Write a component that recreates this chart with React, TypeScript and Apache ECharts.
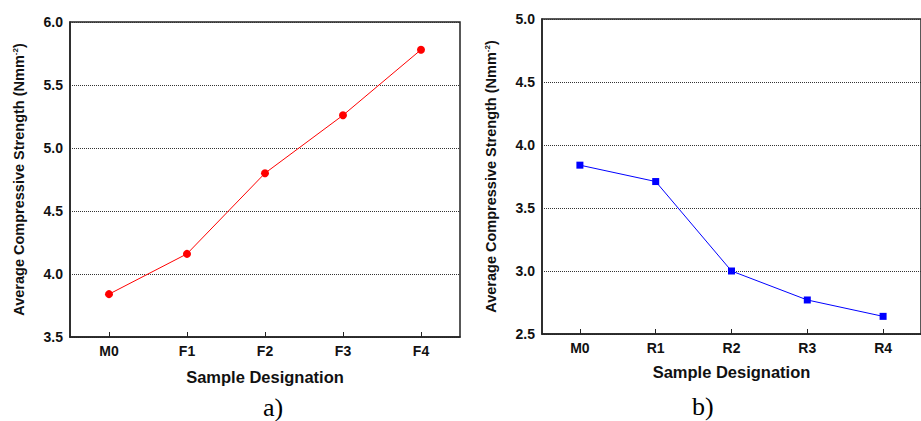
import React, { useEffect, useRef } from "react";
import * as echarts from "echarts";

const catsA = ["M0", "F1", "F2", "F3", "F4"];
const valsA = [3.84, 4.16, 4.8, 5.26, 5.78];
const catsB = ["M0", "R1", "R2", "R3", "R4"];
const valsB = [3.84, 3.71, 3.0, 2.77, 2.64];
const yNameText = "Average Compressive Strength (Nmm{sup|-2})";
const xNameText = "Sample Designation";
const panelLabels = ["a)", "b)"];

const FONT = "Liberation Sans, Arial, sans-serif";

export default function App() {
  const ref = useRef<HTMLDivElement>(null);
  useEffect(() => {
    if (!ref.current) return;
    const chart = echarts.init(ref.current, undefined, { renderer: "svg" });
    const axisLabelStyle = { fontFamily: FONT, fontWeight: "bold", fontSize: 14, color: "#111" };
    const mkX = (idx: number, cats: string[], gap: number) => ({
      type: "category",
      gridIndex: idx,
      data: cats,
      boundaryGap: true,
      name: xNameText,
      nameLocation: "middle",
      nameGap: gap,
      nameTextStyle: { fontFamily: FONT, fontWeight: "bold", fontSize: 16.5, color: "#111" },
      axisLine: { lineStyle: { color: "#222", width: 1.5 } },
      axisTick: { show: true, inside: true, length: 5, alignWithLabel: true, lineStyle: { color: "#222", width: 1 } },
      axisLabel: { ...axisLabelStyle, margin: 7 },
      splitLine: { show: false },
    });
    const mkY = (idx: number, min: number, max: number) => ({
      type: "value",
      gridIndex: idx,
      min,
      max,
      interval: 0.5,
      name: yNameText,
      nameLocation: "middle",
      nameRotate: 90,
      nameGap: 44,
      nameTextStyle: {
        fontFamily: FONT,
        fontWeight: "bold",
        fontSize: 14.5,
        color: "#111",
        rich: {
          sup: { fontFamily: FONT, fontWeight: "bold", fontSize: 8, color: "#111", verticalAlign: "top", padding: [0, 0, 6, 0] },
        },
      },
      axisLine: { show: true, lineStyle: { color: "#222", width: 1.5 } },
      axisTick: { show: false },
      axisLabel: { ...axisLabelStyle, margin: 7, formatter: (v: number) => v.toFixed(1) },
      splitLine: { show: true, lineStyle: { color: "#333", type: "dotted", width: 1 } },
    });
    chart.setOption({
      animation: false,
      backgroundColor: "#fff",
      grid: [
        { left: 70, top: 22, width: 390, height: 315, show: true, borderColor: "#222", borderWidth: 1.5, backgroundColor: "transparent" },
        { left: 542, top: 19, width: 391, height: 315, show: true, borderColor: "#222", borderWidth: 1.5, backgroundColor: "transparent" },
      ],
      xAxis: [mkX(0, catsA, 31), mkX(1, catsB, 29)],
      yAxis: [mkY(0, 3.5, 6.0), mkY(1, 2.5, 5.0)],
      series: [
        {
          type: "line",
          xAxisIndex: 0,
          yAxisIndex: 0,
          data: valsA,
          symbol: "circle",
          symbolSize: 8,
          lineStyle: { color: "#ff0000", width: 1 },
          itemStyle: { color: "#ff0000" },
        },
        {
          type: "line",
          xAxisIndex: 1,
          yAxisIndex: 1,
          data: valsB,
          symbol: "rect",
          symbolSize: 7,
          lineStyle: { color: "#0000ff", width: 1 },
          itemStyle: { color: "#0000ff" },
        },
      ],
      graphic: [
        {
          type: "text",
          left: 263,
          top: 394,
          style: { text: panelLabels[0], font: "26px 'Liberation Serif', 'Times New Roman', serif", fill: "#000" },
        },
        {
          type: "text",
          left: 692,
          top: 393,
          style: { text: panelLabels[1], font: "26px 'Liberation Serif', 'Times New Roman', serif", fill: "#000" },
        },
      ],
    });
    return () => chart.dispose();
  }, []);
  return <div ref={ref} style={{ position: "fixed", left: 0, top: 0, width: 921, height: 421, background: "#fff" }} />;
}
